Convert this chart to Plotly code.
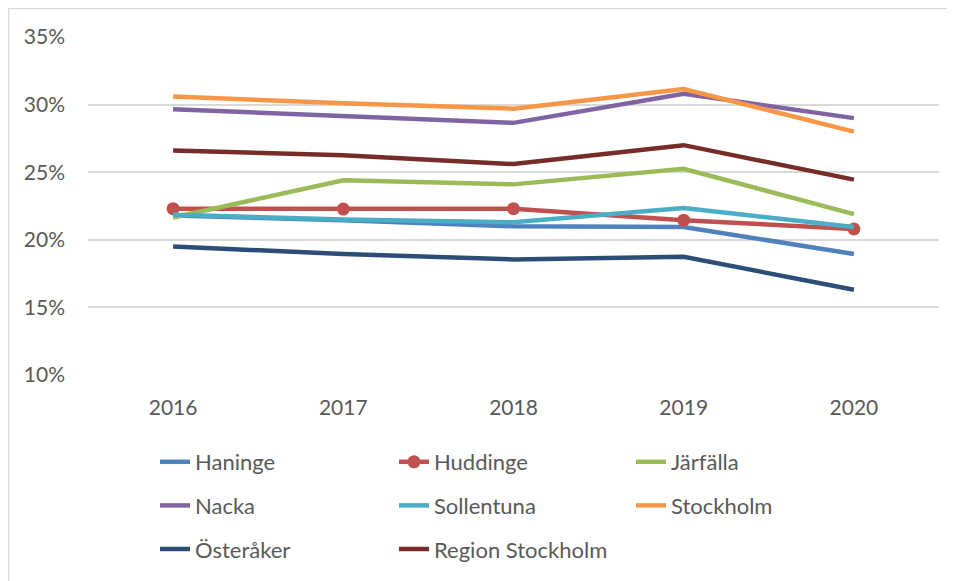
import plotly.graph_objects as go

years = ["2016", "2017", "2018", "2019", "2020"]

haninge = [21.8, 21.45, 21.0, 20.95, 18.95]
huddinge = [22.3, 22.27, 22.3, 21.45, 20.8]
jarfalla = [21.65, 24.4, 24.1, 25.25, 21.9]
nacka = [29.65, 29.15, 28.65, 30.8, 29.0]
sollentuna = [21.85, 21.5, 21.3, 22.35, 20.95]
stockholm = [30.6, 30.1, 29.7, 31.15, 28.0]
osteraker = [19.5, 18.95, 18.55, 18.75, 16.3]
region = [26.6, 26.25, 25.6, 27.0, 24.45]

series = [
    ("Haninge", haninge, "#4F81BD", "legend"),
    ("Huddinge", huddinge, "#C0504D", "legend2"),
    ("Järfälla", jarfalla, "#9BBB59", "legend3"),
    ("Nacka", nacka, "#8064A2", "legend"),
    ("Sollentuna", sollentuna, "#4BACC6", "legend2"),
    ("Stockholm", stockholm, "#F79646", "legend3"),
    ("Österåker", osteraker, "#2C4D75", "legend"),
    ("Region Stockholm", region, "#772C2A", "legend2"),
]

# The page body has an 8px margin, so the figure is sized to fit the window
W, H = 947, 573
ML, MR, MT, MB = 80, 16, 29, 206
pw = W - ML - MR
ph = H - MT - MB

fig = go.Figure()
for name, vals, color, lg in series:
    is_hud = name == "Huddinge"
    fig.add_trace(go.Scatter(
        x=years, y=[v / 100 for v in vals], name=name,
        mode="lines+markers" if is_hud else "lines",
        line=dict(color=color, width=4.5),
        marker=dict(size=13, color=color) if is_hud else None,
        legend=lg, legendgroup=name,
    ))

font = dict(family="Lato, 'Open Sans', sans-serif", size=21, color="#595959")
legend_font = dict(family="Lato, 'Open Sans', sans-serif", size=22, color="#595959")

def px_x(px):
    return (px - ML) / pw

def px_y(py):
    return (H - MB - py) / ph

legend_common = dict(
    font=legend_font, bgcolor="rgba(0,0,0,0)", tracegroupgap=12,
    xanchor="left", yanchor="top", orientation="v",
    xref="container", yref="container",
)

fig.update_layout(
    width=W, height=H,
    margin=dict(l=ML, r=MR, t=MT, b=MB, autoexpand=False),
    paper_bgcolor="white", plot_bgcolor="white",
    font=font,
    showlegend=True,
    legend=dict(x=147 / W, y=1 - 433 / H, **legend_common),
    legend2=dict(x=386 / W, y=1 - 433 / H, **legend_common),
    legend3=dict(x=623 / W, y=1 - 433 / H, **legend_common),
    xaxis=dict(
        range=[-0.5, 4.5],
        showgrid=False, zeroline=False, showline=False,
        ticks="", ticklabelstandoff=18, tickfont=font,
    ),
    yaxis=dict(
        range=[0.10, 0.35], dtick=0.05, tickformat=".0%",
        showgrid=True, gridcolor="#d9d9d9", gridwidth=1.5,
        zeroline=False, showline=False, ticks="",
        ticklabelstandoff=22, tickfont=font,
    ),
    shapes=[
        dict(type="line", xref="paper", yref="paper",
             x0=px_x(0), x1=px_x(W), y0=px_y(0), y1=px_y(0),
             line=dict(color="#d9d9d9", width=2.5)),
        dict(type="line", xref="paper", yref="paper",
             x0=px_x(0), x1=px_x(0), y0=px_y(0), y1=px_y(H),
             line=dict(color="#d9d9d9", width=2.5)),
    ],
)

fig.write_html("out.html")
